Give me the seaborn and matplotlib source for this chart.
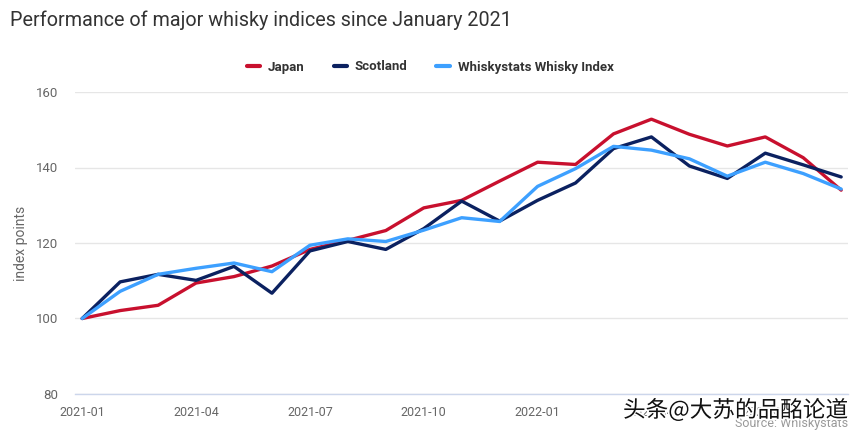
import matplotlib
matplotlib.use("Agg")
import matplotlib.pyplot as plt
import matplotlib.patheffects as pe
from matplotlib.lines import Line2D
import seaborn as sns
import pandas as pd

months = ["2021-01", "2021-02", "2021-03", "2021-04", "2021-05", "2021-06", "2021-07",
          "2021-08", "2021-09", "2021-10", "2021-11", "2021-12", "2022-01", "2022-02",
          "2022-03", "2022-04", "2022-05", "2022-06", "2022-07", "2022-08", "2022-09"]
japan = [100, 102.1, 103.5, 109.4, 111.1, 113.9, 118.3, 120.7, 123.3, 129.3, 131.3,
         136.4, 141.4, 140.8, 148.9, 152.8, 148.8, 145.7, 148.1, 142.6, 134.0]
scotland = [100, 109.7, 111.7, 110.1, 113.8, 106.7, 117.9, 120.4, 118.3, 123.8, 131.1,
            125.8, 131.3, 135.9, 145.0, 148.1, 140.4, 137.1, 143.8, 140.7, 137.5]
whiskystats = [100, 107.2, 111.7, 113.3, 114.7, 112.4, 119.4, 121.1, 120.4, 123.4, 126.7,
               125.7, 135.0, 139.7, 145.6, 144.6, 142.3, 137.7, 141.4, 138.4, 134.3]
series_names = ["Japan", "Scotland", "Whiskystats Whisky Index"]
tick_months = ["2021-01", "2021-04", "2021-07", "2021-10", "2022-01", "2022-04", "2022-07"]
y_ticks = [80, 100, 120, 140, 160]

colors = ["#C8102E", "#0B2160", "#3DA0FF"]

rows = []
for name, vals in zip(series_names, [japan, scotland, whiskystats]):
    for i, (m, v) in enumerate(zip(months, vals)):
        rows.append({"idx": i, "month": m, "value": v, "series": name})
df = pd.DataFrame(rows)

sns.set_theme(style="white")
plt.rcParams["font.family"] = ["Roboto", "DejaVu Sans"]

fig = plt.figure(figsize=(8.59, 4.33), dpi=100)
ax = fig.add_axes([75 / 859, 1 - 394 / 433, (848 - 75) / 859, (394 - 92) / 433])

sns.lineplot(data=df, x="idx", y="value", hue="series", palette=colors,
             hue_order=series_names, linewidth=2.4, ax=ax, legend=False)

ax.set_xlim(-0.19, 20.18)
ax.set_ylim(80, 160)
ax.set_yticks(y_ticks)
ax.set_yticklabels([str(v) for v in y_ticks], color="#666666", fontsize=9.5)
ax.set_xticks([months.index(m) for m in tick_months])
ax.set_xticklabels(tick_months, color="#666666", fontsize=9)
ax.tick_params(axis="y", length=0, pad=12)
ax.tick_params(axis="x", length=7, width=1, color="#CCD6EB", pad=2)
ax.grid(axis="y", color="#E6E6E6", linewidth=1)
ax.set_axisbelow(True)
for s in ["top", "right", "left"]:
    ax.spines[s].set_visible(False)
ax.spines["bottom"].set_color("#CCD6EB")
ax.spines["bottom"].set_linewidth(1)
ax.set_xlabel("")
ax.set_ylabel("index points", color="#666666", fontsize=10)
ax.yaxis.set_label_coords(-47 / 773, 0.5)

fig.text(10 / 859, 1 - 20 / 433, "Performance of major whisky indices since January 2021",
         fontsize=14.2, color="#333333", va="center", ha="left")

handles = [Line2D([0], [0], color=c, linewidth=3) for c in colors]
leg = fig.legend(handles, series_names, loc="center", bbox_to_anchor=(430 / 859, 1 - 67 / 433),
                 ncol=3, frameon=False, handlelength=1.0, handletextpad=0.6, columnspacing=2.2,
                 prop={"weight": "bold", "size": 9.5})
for t in leg.get_texts():
    t.set_color("#333333")

fig.text(848 / 859, 1 - 424 / 433, "Source: Whiskystats", fontsize=9, color="#999999",
         ha="right", va="center")

fig.text(848 / 859, 1 - 410 / 433, "头条@大苏的品酩论道", fontsize=16.3, color="#111111",
         ha="right", va="center", family=["Noto Sans CJK SC", "DejaVu Sans"],
         path_effects=[pe.withStroke(linewidth=2.5, foreground="white")])

fig.savefig("out.png", dpi=100)
